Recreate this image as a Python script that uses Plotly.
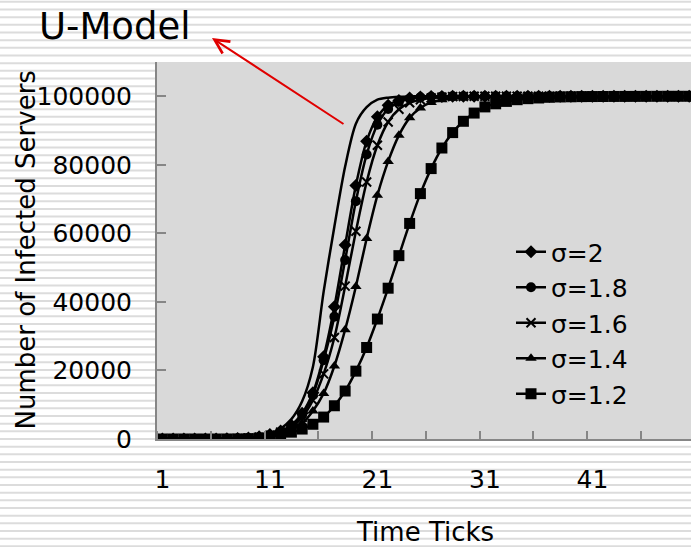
import plotly.graph_objects as go

# ---------------- data ----------------
time_ticks = list(range(1, 51))

u_model = [0, 0, 0, 0, 10, 30, 70, 150, 350, 800,
           1600, 3000, 5800, 11000, 21000, 43000, 62000, 79500, 92000, 96800,
           99000, 99600, 99850, 99950, 100000, 100000, 100000, 100000, 100000, 100000,
           100000, 100000, 100000, 100000, 100000, 100000, 100000, 100000, 100000, 100000,
           100000, 100000, 100000, 100000, 100000, 100000, 100000, 100000, 100000, 100000]

sigma_2 = [0, 0, 0, 0, 10, 20, 50, 120, 280, 650,
           1300, 2300, 4000, 7500, 13500, 24000, 38600, 56600, 74000, 86900,
           94000, 97400, 98800, 99500, 99800, 99900, 99950, 100000, 100000, 100000,
           100000, 100000, 100000, 100000, 100000, 100000, 100000, 100000, 100000, 100000,
           100000, 100000, 100000, 100000, 100000, 100000, 100000, 100000, 100000, 100000]

sigma_18 = [0, 0, 0, 0, 10, 20, 50, 110, 250, 600,
            1200, 2100, 3600, 7000, 12800, 23000, 35700, 52200, 69400, 83000,
            91700, 96300, 98400, 99300, 99700, 99850, 99950, 100000, 100000, 100000,
            100000, 100000, 100000, 100000, 100000, 100000, 100000, 100000, 100000, 100000,
            100000, 100000, 100000, 100000, 100000, 100000, 100000, 100000, 100000, 100000]

sigma_16 = [0, 0, 0, 0, 0, 10, 30, 80, 200, 500,
            1100, 2000, 3500, 6300, 11300, 19000, 29600, 44600, 60600, 75000,
            85700, 92500, 96200, 98100, 99000, 99500, 99750, 99900, 99950, 100000,
            100000, 100000, 100000, 100000, 100000, 100000, 100000, 100000, 100000, 100000,
            100000, 100000, 100000, 100000, 100000, 100000, 100000, 100000, 100000, 100000]

sigma_14 = [0, 0, 0, 0, 0, 10, 20, 50, 130, 330,
            750, 1500, 2700, 4600, 8200, 13300, 21300, 31900, 44500, 58500,
            71100, 81000, 88600, 93700, 96600, 98200, 99000, 99500, 99700, 99850,
            99950, 100000, 100000, 100000, 100000, 100000, 100000, 100000, 100000, 100000,
            100000, 100000, 100000, 100000, 100000, 100000, 100000, 100000, 100000, 100000]

sigma_12 = [0, 0, 0, 0, 0, 0, 10, 30, 100, 250,
            600, 1200, 2000, 2900, 4300, 6400, 9700, 14000, 19800, 26700,
            35000, 44000, 53500, 62900, 71600, 78900, 84900, 89400, 92700, 95100,
            96900, 97800, 98500, 99000, 99300, 99500, 99700, 99800, 99850, 99900,
            99920, 99940, 99950, 99960, 99970, 99980, 99990, 100000, 100000, 100000]

series_names = ["σ=2", "σ=1.8", "σ=1.6", "σ=1.4", "σ=1.2"]
series_values = [sigma_2, sigma_18, sigma_16, sigma_14, sigma_12]

x_tick_labels = [1, 11, 21, 31, 41]
y_tick_values = [0, 20000, 40000, 60000, 80000, 100000]

# ---------------- styling ----------------
W, H = 691, 547
L, T, B = 157, 62, 439          # plot area pixel edges
PH = B - T
FONT = "DejaVu Sans"
markers = [
    dict(symbol="diamond", size=10, color="black"),
    dict(symbol="circle", size=10, color="black"),
    dict(symbol="x-thin", size=9, color="black", line=dict(width=2, color="black")),
    dict(symbol="triangle-up", size=10, color="black"),
    dict(symbol="square", size=11, color="black"),
]

fig = go.Figure()

fig.add_trace(go.Scatter(
    x=time_ticks, y=u_model, mode="lines", name="U-Model", showlegend=False,
    line=dict(color="black", width=2.5, shape="spline", smoothing=0.8),
))

for i, (name, vals) in enumerate(zip(series_names, series_values)):
    fig.add_trace(go.Scatter(
        x=time_ticks, y=vals, mode="lines+markers", name=name,
        line=dict(color="black", width=2.5, shape="spline", smoothing=0.8),
        marker=markers[i],
    ))

def py2paper(py):
    return (B - py) / PH

def px2paper(px):
    return (px - L) / (W - L)

# striped background
shapes = []
py = 1.8
while py < H + 2:
    yy = py2paper(py)
    shapes.append(dict(type="line", xref="paper", yref="paper",
                       x0=-0.32, x1=1.05, y0=yy, y1=yy,
                       line=dict(color="#dcdcdc", width=2), layer="below"))
    py += 7.67
shapes.append(dict(type="rect", xref="paper", yref="paper",
                   x0=0, x1=1, y0=0, y1=1, fillcolor="#d9d9d9",
                   line=dict(width=0), layer="below"))

annotations = [
    dict(text="U-Model", xref="paper", yref="paper",
         x=px2paper(37), y=py2paper(27), xanchor="left", yanchor="middle",
         showarrow=False, font=dict(family=FONT, size=37, color="black")),
    dict(text="", xref="paper", yref="paper",
         x=px2paper(212), y=py2paper(38), ax=133, ay=87,
         showarrow=True, arrowhead=5, arrowsize=1.4, arrowwidth=2,
         arrowcolor="#e00000", standoff=0, startstandoff=0),
    dict(text="Number of Infected Servers", xref="paper", yref="paper",
         x=px2paper(25), y=0.5, xanchor="center", yanchor="middle",
         textangle=-90, showarrow=False,
         font=dict(family=FONT, size=26, color="black")),
    dict(text="Time Ticks", xref="paper", yref="paper",
         x=px2paper(425), y=py2paper(532), xanchor="center", yanchor="middle",
         showarrow=False, font=dict(family=FONT, size=26, color="black")),
]

fig.update_layout(
    width=W, height=H,
    margin=dict(l=L, r=0, t=T, b=H - B, pad=0),
    paper_bgcolor="white",
    plot_bgcolor="rgba(0,0,0,0)",
    font=dict(family=FONT, size=25, color="black"),
    shapes=shapes,
    annotations=annotations,
    showlegend=True,
    legend=dict(x=px2paper(511), y=py2paper(229), xanchor="left", yanchor="top",
                bgcolor="rgba(0,0,0,0)", borderwidth=0,
                font=dict(family=FONT, size=25, color="black"),
                itemsizing="trace"),
)

fig.update_xaxes(
    range=[0.5, 50.17], tickmode="array", tickvals=x_tick_labels,
    ticktext=[str(v) for v in x_tick_labels],
    ticks="", showgrid=False, zeroline=False,
    showline=True, linecolor="#868686", linewidth=2,
    ticklabelstandoff=17,
    minor=dict(tick0=0.5, dtick=5, ticks="inside", ticklen=8,
               tickcolor="#868686", tickwidth=1.5, showgrid=False),
)

fig.update_yaxes(
    range=[0, 110000], tickmode="array", tickvals=y_tick_values,
    tickformat="d", ticks="inside", ticklen=9, tickcolor="#868686", tickwidth=1.5,
    showgrid=False, zeroline=False,
    showline=True, linecolor="#868686", linewidth=2,
    ticklabelstandoff=18,
)

fig.write_html("out.html", config={"displayModeBar": False},
               post_script="document.body.style.margin='0px';document.body.style.overflow='hidden';")
